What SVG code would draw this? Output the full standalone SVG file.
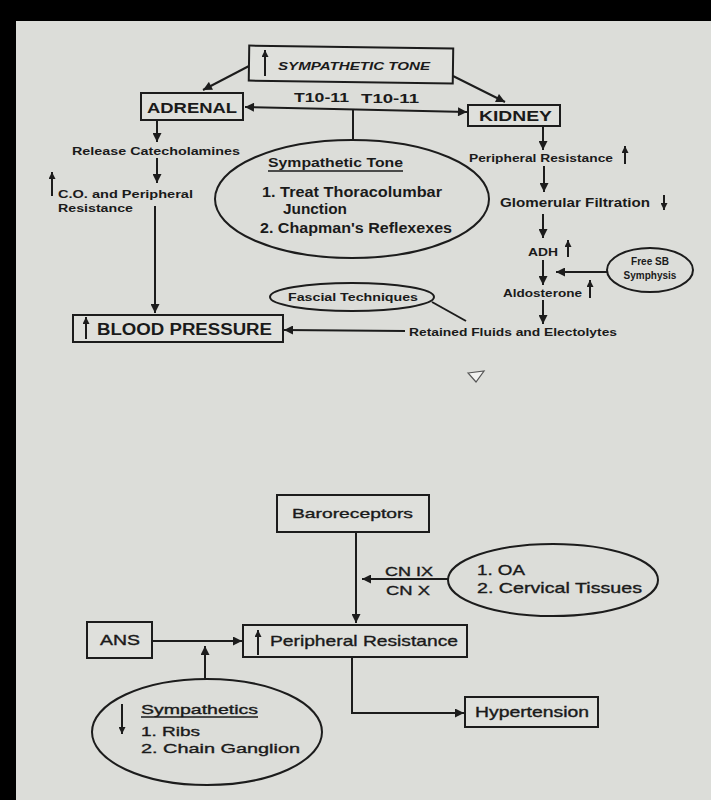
<svg xmlns="http://www.w3.org/2000/svg" width="711" height="800" viewBox="0 0 711 800">
<defs>
<style>
.bg{fill:#dcddd9}
.ln{stroke:#1c1c1c;stroke-width:2;fill:none}
.bx{stroke:#1c1c1c;stroke-width:2;fill:#dfe0dc}
.el{stroke:#1c1c1c;stroke-width:2;fill:none}
.t{font-family:"Liberation Sans",Arial,sans-serif;fill:#1a1a1a;font-weight:bold;dominant-baseline:central}
.r{font-family:"Liberation Sans",Arial,sans-serif;fill:#1a1a1a;stroke:#1a1a1a;stroke-width:0.35;dominant-baseline:central}
.ul{stroke:#1a1a1a;stroke-width:1.3}
</style>
<marker id="ah" viewBox="0 0 10 10" refX="10" refY="5" markerWidth="10" markerHeight="9" markerUnits="userSpaceOnUse" orient="auto">
<path d="M0,0 L10,5 L0,10 z" fill="#1c1c1c"/>
</marker>
<marker id="ahs" viewBox="0 0 10 10" refX="10" refY="5" markerWidth="7" markerHeight="7" markerUnits="userSpaceOnUse" orient="auto">
<path d="M0,0 L10,5 L0,10 z" fill="#1c1c1c"/>
</marker>
</defs>
<rect class="bg" x="0" y="0" width="711" height="800"/>
<rect x="0" y="0" width="711" height="21" fill="#000"/>
<rect x="0" y="0" width="16" height="800" fill="#000"/>

<g id="connectors">
<line class="ln" x1="249" y1="66" x2="203" y2="90" marker-end="url(#ah)"/>
<line class="ln" x1="453" y1="76" x2="505" y2="102" marker-end="url(#ah)"/>
<line class="ln" x1="356" y1="109.5" x2="245" y2="107" marker-end="url(#ah)"/>
<line class="ln" x1="356" y1="109.5" x2="467" y2="112" marker-end="url(#ah)"/>
<line class="ln" x1="353" y1="110" x2="353" y2="139"/>
<line class="ln" x1="157" y1="121" x2="157" y2="142" marker-end="url(#ah)"/>
<line class="ln" x1="157" y1="158" x2="157" y2="183" marker-end="url(#ah)"/>
<line class="ln" x1="155" y1="206" x2="155" y2="313" marker-end="url(#ah)"/>
<line class="ln" x1="543" y1="126" x2="543" y2="150" marker-end="url(#ah)"/>
<line class="ln" x1="544" y1="166" x2="544" y2="192" marker-end="url(#ah)"/>
<line class="ln" x1="543" y1="214" x2="543" y2="238" marker-end="url(#ah)"/>
<line class="ln" x1="543" y1="260" x2="543" y2="285" marker-end="url(#ah)"/>
<line class="ln" x1="607" y1="272" x2="556" y2="272" marker-end="url(#ah)"/>
<line class="ln" x1="543" y1="300" x2="543" y2="324" marker-end="url(#ah)"/>
<line class="ln" x1="405" y1="331" x2="284" y2="330" marker-end="url(#ah)"/>
<line class="ln" x1="432" y1="302" x2="466" y2="321"/>
<line class="ln" x1="356" y1="533" x2="356" y2="623" marker-end="url(#ah)"/>
<line class="ln" x1="448" y1="579" x2="362" y2="579" marker-end="url(#ah)"/>
<line class="ln" x1="153" y1="641" x2="242" y2="641" marker-end="url(#ah)"/>
<line class="ln" x1="205" y1="680" x2="205" y2="646" marker-end="url(#ah)"/>
<polyline class="ln" points="352,658 352,713 464,713" marker-end="url(#ah)"/>
</g>

<g id="sympathetic-tone-top">
<rect class="bx" x="249" y="47" width="204" height="35" transform="rotate(0.8 351 64)"/>
<line class="ln" x1="265" y1="76" x2="265" y2="50" marker-end="url(#ahs)"/>
<text class="t" x="278" y="66" font-size="10" font-style="italic" textLength="152" lengthAdjust="spacingAndGlyphs">SYMPATHETIC TONE</text>
</g>

<g id="adrenal">
<rect class="bx" x="141" y="93" width="102" height="27"/>
<text class="t" x="147" y="107" font-size="15" textLength="90" lengthAdjust="spacingAndGlyphs">ADRENAL</text>
</g>

<g id="t10-labels">
<text class="t" x="294" y="97" font-size="13" textLength="55" lengthAdjust="spacingAndGlyphs">T10-11</text>
<text class="t" x="361" y="98" font-size="13" textLength="58" lengthAdjust="spacingAndGlyphs">T10-11</text>
</g>

<g id="kidney">
<rect class="bx" x="468" y="105" width="92" height="21"/>
<text class="t" x="479" y="116" font-size="14" textLength="73" lengthAdjust="spacingAndGlyphs">KIDNEY</text>
</g>

<g id="release-catecholamines">
<text class="t" x="72" y="151" font-size="11" textLength="168" lengthAdjust="spacingAndGlyphs">Release Catecholamines</text>
</g>

<g id="co-peripheral">
<line class="ln" x1="52" y1="196" x2="52" y2="172" marker-end="url(#ahs)"/>
<text class="t" x="58" y="194" font-size="11" textLength="135" lengthAdjust="spacingAndGlyphs">C.O. and Peripheral</text>
<text class="t" x="58" y="208" font-size="11" textLength="75" lengthAdjust="spacingAndGlyphs">Resistance</text>
</g>

<g id="sympathetic-tone-ellipse">
<ellipse class="el" cx="352" cy="199" rx="137" ry="59"/>
<text class="t" x="268" y="162" font-size="13" textLength="135" lengthAdjust="spacingAndGlyphs">Sympathetic Tone</text>
<line class="ul" x1="268" y1="171" x2="403" y2="171"/>
<text class="t" x="262" y="192" font-size="14" textLength="180" lengthAdjust="spacingAndGlyphs">1. Treat Thoracolumbar</text>
<text class="t" x="283" y="209" font-size="14" textLength="64" lengthAdjust="spacingAndGlyphs">Junction</text>
<text class="t" x="260" y="228" font-size="14" textLength="192" lengthAdjust="spacingAndGlyphs">2. Chapman's Reflexexes</text>
</g>

<g id="peripheral-resistance-top">
<text class="t" x="469" y="158" font-size="11" textLength="144" lengthAdjust="spacingAndGlyphs">Peripheral Resistance</text>
<line class="ln" x1="625" y1="164" x2="625" y2="146" marker-end="url(#ahs)"/>
</g>

<g id="glomerular-filtration">
<text class="t" x="500" y="203" font-size="12" textLength="150" lengthAdjust="spacingAndGlyphs">Glomerular Filtration</text>
<line class="ln" x1="664" y1="195" x2="664" y2="210" marker-end="url(#ahs)"/>
</g>

<g id="adh">
<text class="t" x="528" y="252" font-size="10" textLength="30" lengthAdjust="spacingAndGlyphs">ADH</text>
<line class="ln" x1="568" y1="257" x2="568" y2="240" marker-end="url(#ahs)"/>
</g>

<g id="free-sb-symphysis">
<ellipse class="el" cx="650" cy="270" rx="43" ry="22"/>
<text class="t" x="650" y="261" font-size="10" text-anchor="middle">Free SB</text>
<text class="t" x="650" y="275" font-size="10" text-anchor="middle">Symphysis</text>
</g>

<g id="aldosterone">
<text class="t" x="503" y="293" font-size="10.5" textLength="79" lengthAdjust="spacingAndGlyphs">Aldosterone</text>
<line class="ln" x1="590" y1="298" x2="590" y2="280" marker-end="url(#ahs)"/>
</g>

<g id="retained-fluids">
<text class="t" x="409" y="332" font-size="11" textLength="208" lengthAdjust="spacingAndGlyphs">Retained Fluids and Electolytes</text>
</g>

<g id="fascial-techniques">
<ellipse class="el" cx="352" cy="297" rx="82" ry="14"/>
<text class="t" x="288" y="297" font-size="11" textLength="130" lengthAdjust="spacingAndGlyphs">Fascial Techniques</text>
</g>

<g id="blood-pressure">
<rect class="bx" x="73" y="315" width="210" height="27"/>
<line class="ln" x1="86" y1="339" x2="86" y2="317" marker-end="url(#ahs)"/>
<text class="t" x="97" y="329" font-size="16" textLength="175" lengthAdjust="spacingAndGlyphs">BLOOD PRESSURE</text>
</g>

<g id="cursor-mark">
<path d="M468,373 L484,371 L476,382 Z" fill="#f2f2f0" stroke="#555" stroke-width="1.2"/>
</g>

<g id="baroreceptors">
<rect class="bx" x="277" y="495" width="152" height="37"/>
<text class="r" x="292" y="513" font-size="13.5" textLength="121" lengthAdjust="spacingAndGlyphs">Baroreceptors</text>
</g>

<g id="cn-labels">
<text class="r" x="385" y="571" font-size="13.5" textLength="48" lengthAdjust="spacingAndGlyphs">CN IX</text>
<text class="r" x="386" y="590" font-size="13.5" textLength="44" lengthAdjust="spacingAndGlyphs">CN X</text>
</g>

<g id="oa-cervical">
<ellipse class="el" cx="553" cy="580" rx="105" ry="36"/>
<text class="r" x="477" y="569" font-size="15" textLength="48" lengthAdjust="spacingAndGlyphs">1. OA</text>
<text class="r" x="477" y="588" font-size="14.5" textLength="165" lengthAdjust="spacingAndGlyphs">2. Cervical Tissues</text>
</g>

<g id="ans">
<rect class="bx" x="87" y="622" width="65" height="36"/>
<text class="r" x="100" y="640" font-size="14" textLength="40" lengthAdjust="spacingAndGlyphs">ANS</text>
</g>

<g id="peripheral-resistance">
<rect class="bx" x="243" y="625" width="224" height="32"/>
<line class="ln" x1="258" y1="655" x2="258" y2="630" marker-end="url(#ahs)"/>
<text class="r" x="270" y="640" font-size="15" textLength="188" lengthAdjust="spacingAndGlyphs">Peripheral Resistance</text>
</g>

<g id="hypertension">
<rect class="bx" x="465" y="697" width="133" height="30"/>
<text class="r" x="475" y="712" font-size="14" textLength="114" lengthAdjust="spacingAndGlyphs">Hypertension</text>
</g>

<g id="sympathetics">
<ellipse class="el" cx="207" cy="732" rx="115" ry="53"/>
<line class="ln" x1="122" y1="704" x2="122" y2="734" marker-end="url(#ahs)"/>
<text class="r" x="141" y="709" font-size="13" textLength="117" lengthAdjust="spacingAndGlyphs">Sympathetics</text>
<line class="ul" x1="141" y1="717" x2="258" y2="717"/>
<text class="r" x="141" y="731" font-size="13" textLength="59" lengthAdjust="spacingAndGlyphs">1. Ribs</text>
<text class="r" x="141" y="748" font-size="13" textLength="159" lengthAdjust="spacingAndGlyphs">2. Chain Ganglion</text>
</g>
</svg>
